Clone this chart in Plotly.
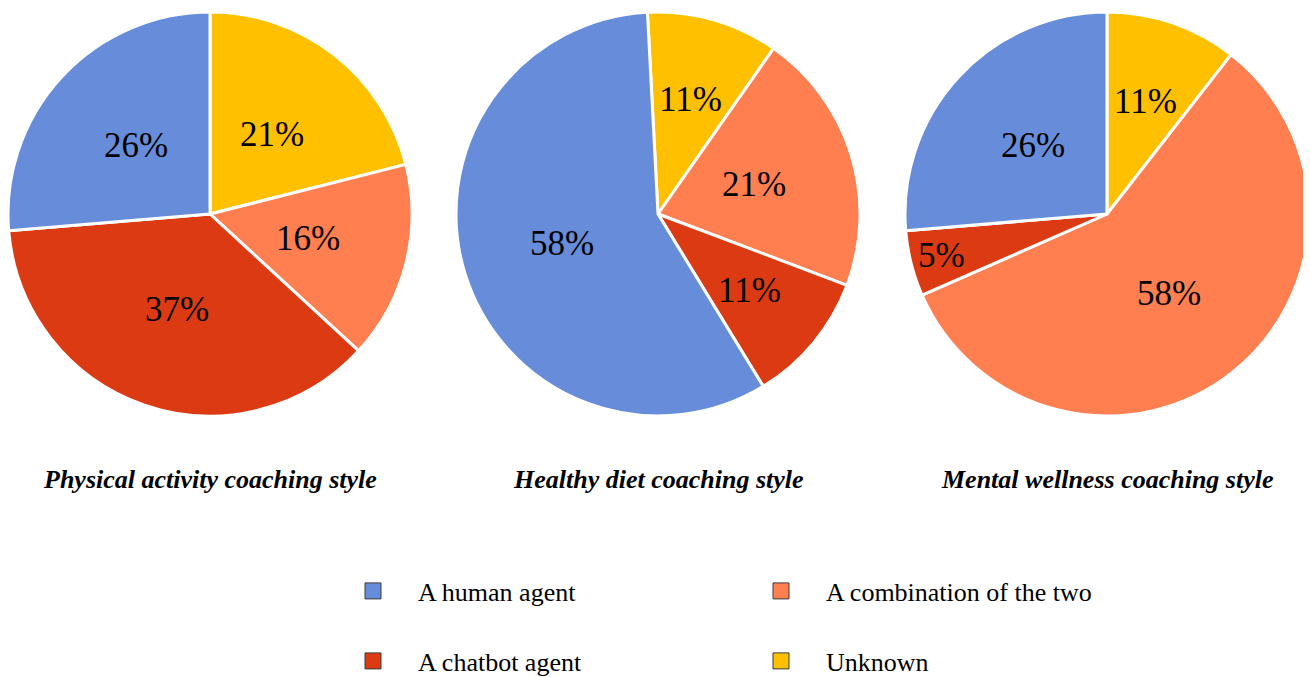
import math
import plotly.graph_objects as go

# Survey responses (n = 19 per question), read from the chart percentages
# Slices listed clockwise from 12 o'clock
slice_labels = ["Unknown", "A combination of the two", "A chatbot agent", "A human agent"]
slice_colors = ["#FFC000", "#FF7F50", "#DC3A12", "#678CD9"]
physical_activity = [4, 3, 7, 5]
healthy_diet = [2, 4, 2, 11]
mental_wellness = [2, 11, 1, 5]
titles = ["Physical activity coaching style", "Healthy diet coaching style", "Mental wellness coaching style"]
legend_rows = [["A human agent", "A combination of the two"], ["A chatbot agent", "Unknown"]]

W, H = 1311, 677
R = 202
CY = 206
pies = [
    (physical_activity, 202, 0.0),
    (healthy_diet, 650, -3.0),
    (mental_wellness, 1099, 0.0),
]

fig = go.Figure()
for (vals, cx, rot), title in zip(pies, titles):
    fig.add_trace(go.Pie(
        labels=slice_labels, values=vals, sort=False, direction="clockwise",
        rotation=rot,
        domain=dict(x=[(cx - R) / W, (cx + R) / W], y=[1 - (CY + R) / H, 1 - (CY - R) / H]),
        marker=dict(colors=slice_colors, line=dict(color="white", width=3)),
        textinfo="none", showlegend=False, hoverinfo="label+percent",
    ))
    # percentage labels, placed along each slice's mid-angle
    total = sum(vals)
    cum = 0
    for v in vals:
        p = v / total
        theta = math.radians(rot + 360 * (cum + v / 2) / total)
        cum += v
        f = 0.5 + 30 * max(0.0, 0.16 - p) ** 2
        x = cx + f * R * math.sin(theta)
        y = CY - f * R * math.cos(theta)
        fig.add_annotation(text=f"{round(100 * p)}%", x=x / W, y=1 - y / H,
                           xref="paper", yref="paper", showarrow=False,
                           xanchor="center", yanchor="middle",
                           font=dict(family="Liberation Serif", size=35, color="black"))
    fig.add_annotation(text=f"<b><i>{title}</i></b>", x=cx / W, y=1 - 471 / H,
                       xref="paper", yref="paper", showarrow=False,
                       xanchor="center", yanchor="middle",
                       font=dict(family="Liberation Serif", size=26, color="black"))

legend_keys = ["legend", "legend2"]
for lg, names in zip(legend_keys, legend_rows):
    for n in names:
        fig.add_trace(go.Scatter(
            x=[None], y=[None], mode="markers", name=n, legend=lg,
            marker=dict(symbol="square", size=16, color=slice_colors[slice_labels.index(n)],
                        line=dict(color="#3a3a3a", width=1)),
            hoverinfo="skip",
        ))

leg_common = dict(orientation="h", xanchor="left", yanchor="middle", entrywidth=313,
                  entrywidthmode="pixels", itemwidth=80, bgcolor="rgba(0,0,0,0)",
                  font=dict(family="Liberation Serif", size=26, color="black"),
                  itemclick=False, itemdoubleclick=False)

fig.update_layout(
    width=W, height=H, margin=dict(l=0, r=0, t=0, b=0, autoexpand=False),
    paper_bgcolor="white", plot_bgcolor="white",
    xaxis=dict(visible=False), yaxis=dict(visible=False),
    legend=dict(x=320 / W, y=1 - 583 / H, **leg_common),
    legend2=dict(x=320 / W, y=1 - 653 / H, **leg_common),
)

fig.write_html("out.html")
